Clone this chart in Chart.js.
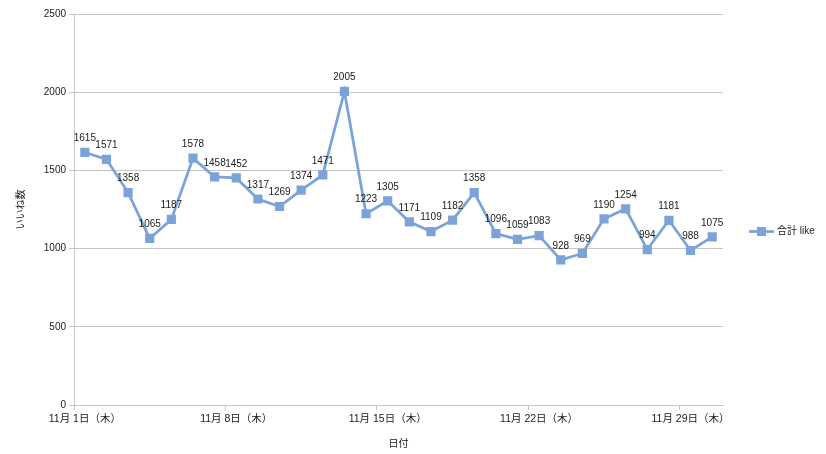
<!DOCTYPE html>
<html>
<head>
<meta charset="utf-8">
<script src="https://cdn.jsdelivr.net/npm/chart.js@4/dist/chart.umd.min.js"></script>
<style>
  html, body { margin: 0; padding: 0; background: #fff; }
  #wrap { width: 826px; height: 454px; }
</style>
</head>
<body>
<div id="wrap"><canvas id="myChart" width="826" height="454"></canvas></div>
<script>
const days = [
  '11月 1日（木）', '11月 2日（金）', '11月 3日（土）', '11月 4日（日）', '11月 5日（月）',
  '11月 6日（火）', '11月 7日（水）', '11月 8日（木）', '11月 9日（金）', '11月 10日（土）',
  '11月 11日（日）', '11月 12日（月）', '11月 13日（火）', '11月 14日（水）', '11月 15日（木）',
  '11月 16日（金）', '11月 17日（土）', '11月 18日（日）', '11月 19日（月）', '11月 20日（火）',
  '11月 21日（水）', '11月 22日（木）', '11月 23日（金）', '11月 24日（土）', '11月 25日（日）',
  '11月 26日（月）', '11月 27日（火）', '11月 28日（水）', '11月 29日（木）', '11月 30日（金）'
];
const likes = [
  1615, 1571, 1358, 1065, 1187, 1578, 1458, 1452, 1317, 1269,
  1374, 1471, 2005, 1223, 1305, 1171, 1109, 1182, 1358, 1096,
  1059, 1083, 928, 969, 1190, 1254, 994, 1181, 988, 1075
];
const seriesName = '合計 like';
const yTitle = 'いいね数';
const xTitle = '日付';
const yTicks = [0, 500, 1000, 1500, 2000, 2500];

const lineColor = '#7ba3da';
const gridColor = '#c6c6c6';
const textColor = '#1a1a1a';
const fontFamily = '"Liberation Sans", "Noto Sans CJK JP", sans-serif';

// value labels above each point
const valueLabels = {
  id: 'valueLabels',
  afterDatasetsDraw(chart) {
    const ctx = chart.ctx;
    const meta = chart.getDatasetMeta(0);
    ctx.save();
    ctx.font = '10px ' + fontFamily;
    ctx.fillStyle = textColor;
    ctx.textAlign = 'center';
    ctx.textBaseline = 'middle';
    meta.data.forEach((pt, i) => {
      ctx.fillText(String(likes[i]), pt.x, pt.y - 14);
    });
    ctx.restore();
  }
};

// legend on the right: line with square marker + name
const sideLegend = {
  id: 'sideLegend',
  afterDraw(chart) {
    const ctx = chart.ctx;
    const area = chart.chartArea;
    const y = (area.top + area.bottom) / 2 + 22;
    const x0 = 749;
    ctx.save();
    ctx.strokeStyle = lineColor;
    ctx.lineWidth = 2.75;
    ctx.beginPath();
    ctx.moveTo(x0, y);
    ctx.lineTo(x0 + 25, y);
    ctx.stroke();
    ctx.fillStyle = lineColor;
    ctx.fillRect(x0 + 8, y - 4.5, 9, 9);
    ctx.font = '10px ' + fontFamily;
    ctx.fillStyle = textColor;
    ctx.textAlign = 'left';
    ctx.textBaseline = 'middle';
    ctx.fillText(seriesName, x0 + 28, y);
    ctx.restore();
  }
};

const ctx = document.getElementById('myChart').getContext('2d');
new Chart(ctx, {
  type: 'line',
  data: {
    labels: days,
    datasets: [{
      label: seriesName,
      data: likes,
      borderColor: lineColor,
      backgroundColor: lineColor,
      borderWidth: 2.75,
      pointStyle: 'rect',
      pointRadius: 6.5,
      pointBorderWidth: 0,
      pointHoverRadius: 6.5,
      tension: 0
    }]
  },
  options: {
    responsive: false,
    animation: false,
    layout: { padding: { left: 10, right: 103, top: 14, bottom: 4 } },
    plugins: {
      legend: { display: false },
      tooltip: { enabled: false }
    },
    scales: {
      x: {
        offset: true,
        grid: {
          offset: true,
          drawOnChartArea: false,
          tickLength: 5,
          color: (c) => (c.index % 7 === 0 ? gridColor : 'rgba(0,0,0,0)')
        },
        border: { color: gridColor, width: 1 },
        ticks: {
          autoSkip: false,
          maxRotation: 0,
          minRotation: 0,
          color: textColor,
          font: { family: fontFamily, size: 10.5 },
          padding: 3,
          callback: function (value, index) {
            return index % 7 === 0 ? days[index] : '';
          }
        },
        title: {
          display: true,
          text: xTitle,
          color: textColor,
          font: { family: fontFamily, size: 10 },
          padding: { top: 10, bottom: 0 }
        },
        afterFit: (scale) => { scale.height = 45; }
      },
      y: {
        min: 0,
        max: 2500,
        afterBuildTicks: (scale) => { scale.ticks = yTicks.map(v => ({ value: v })); },
        grid: { color: gridColor, tickLength: 5, lineWidth: 1 },
        border: { color: gridColor, width: 1 },
        ticks: {
          color: textColor,
          font: { family: fontFamily, size: 10 },
          padding: 3,
          callback: (v) => String(v)
        },
        title: {
          display: true,
          text: yTitle,
          color: textColor,
          font: { family: fontFamily, size: 10 },
          padding: { top: 5, bottom: 0 }
        },
        afterFit: (scale) => { scale.width = 64; }
      }
    }
  },
  plugins: [valueLabels, sideLegend]
});
</script>
</body>
</html>
